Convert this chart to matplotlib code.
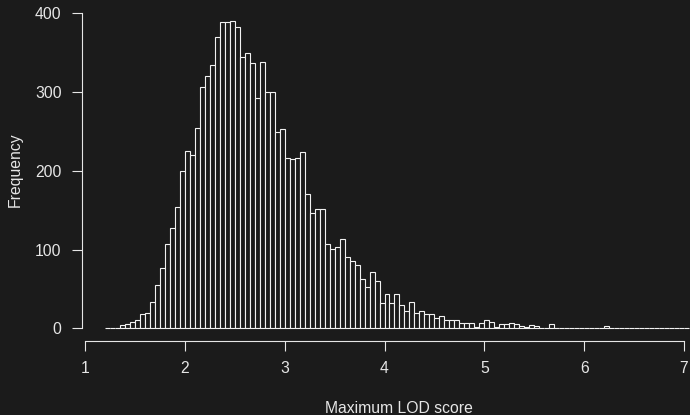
import numpy as np
import matplotlib
matplotlib.use("Agg")
import matplotlib.pyplot as plt

# histogram of maximum LOD scores, bins of width 0.05 starting at 1.2
bin_start = 1.2
bin_width = 0.05
counts = [
    1, 0, 0, 4, 6, 8, 10, 18, 19, 34,          # 1.20 - 1.65
    55, 77, 107, 128, 154, 200, 225, 220, 254, 307,   # 1.70 - 2.15
    320, 334, 370, 389, 389, 390, 382, 344, 349, 337,  # 2.20 - 2.65
    293, 338, 300, 300, 249, 253, 216, 215, 216, 224,  # 2.70 - 3.15
    171, 146, 151, 151, 107, 101, 103, 113, 91, 86,    # 3.20 - 3.65
    81, 63, 52, 71, 60, 32, 44, 32, 43, 29,            # 3.70 - 4.15
    22, 33, 20, 22, 18, 18, 13, 16, 11, 10,            # 4.20 - 4.65
    11, 7, 7, 7, 2, 7, 10, 8, 2, 5,                    # 4.70 - 5.15
    5, 7, 6, 3, 2, 4, 3, 1, 1, 5,                      # 5.20 - 5.65
    1, 0, 1, 0, 0, 0, 0, 0, 1, 0,                      # 5.70 - 6.15
    3, 0, 0, 0, 0, 0, 0, 0, 0, 0,                      # 6.20 - 6.65
    0, 0, 0, 0, 0, 0, 1,                               # 6.70 - 7.00
]
x_ticks = [1, 2, 3, 4, 5, 6, 7]
y_ticks = [0, 100, 200, 300, 400]

bg = "#1b1b1b"
fg = "#e6e6e6"
fs = 11.3

plt.rcParams['font.family'] = ['Liberation Sans', 'DejaVu Sans']

fig = plt.figure(figsize=(6.9, 4.15), dpi=100, facecolor=bg)
ax = fig.add_axes([85 / 690, (415 - 328.3) / 415, 599 / 690, 315 / 415])
ax.set_facecolor(bg)

lefts = bin_start + bin_width * np.arange(len(counts))
bars = ax.bar(lefts, counts, width=bin_width, align='edge', color=bg,
              edgecolor="#f2f2f2", linewidth=0.8)
for b in bars:
    b.set_clip_on(False)

ax.set_xlim(1, 7)
ax.set_ylim(0, 400)

for side in ['top', 'right']:
    ax.spines[side].set_visible(False)
ax.spines['left'].set_position(('outward', 2.4))
ax.spines['bottom'].set_position(('outward', 9.1))
ax.spines['left'].set_bounds(0, 400)
ax.spines['bottom'].set_bounds(1, 7)
for side in ['left', 'bottom']:
    ax.spines[side].set_color(fg)
    ax.spines[side].set_linewidth(0.8)

ax.set_xticks(x_ticks)
ax.set_yticks(y_ticks)
ax.tick_params(colors=fg, labelcolor=fg, length=7.2, width=0.8,
               labelsize=fs)
ax.tick_params(axis='x', pad=7.5)
ax.tick_params(axis='y', pad=7.2)

fig.text(399 / 690, 1 - 408 / 415, "Maximum LOD score", color=fg,
         fontsize=fs, ha='center', va='center')
fig.text(15 / 690, 1 - 170 / 415, "Frequency", color=fg, fontsize=fs,
         ha='center', va='center', rotation=90)

fig.savefig("out.png", dpi=100, facecolor=bg)
